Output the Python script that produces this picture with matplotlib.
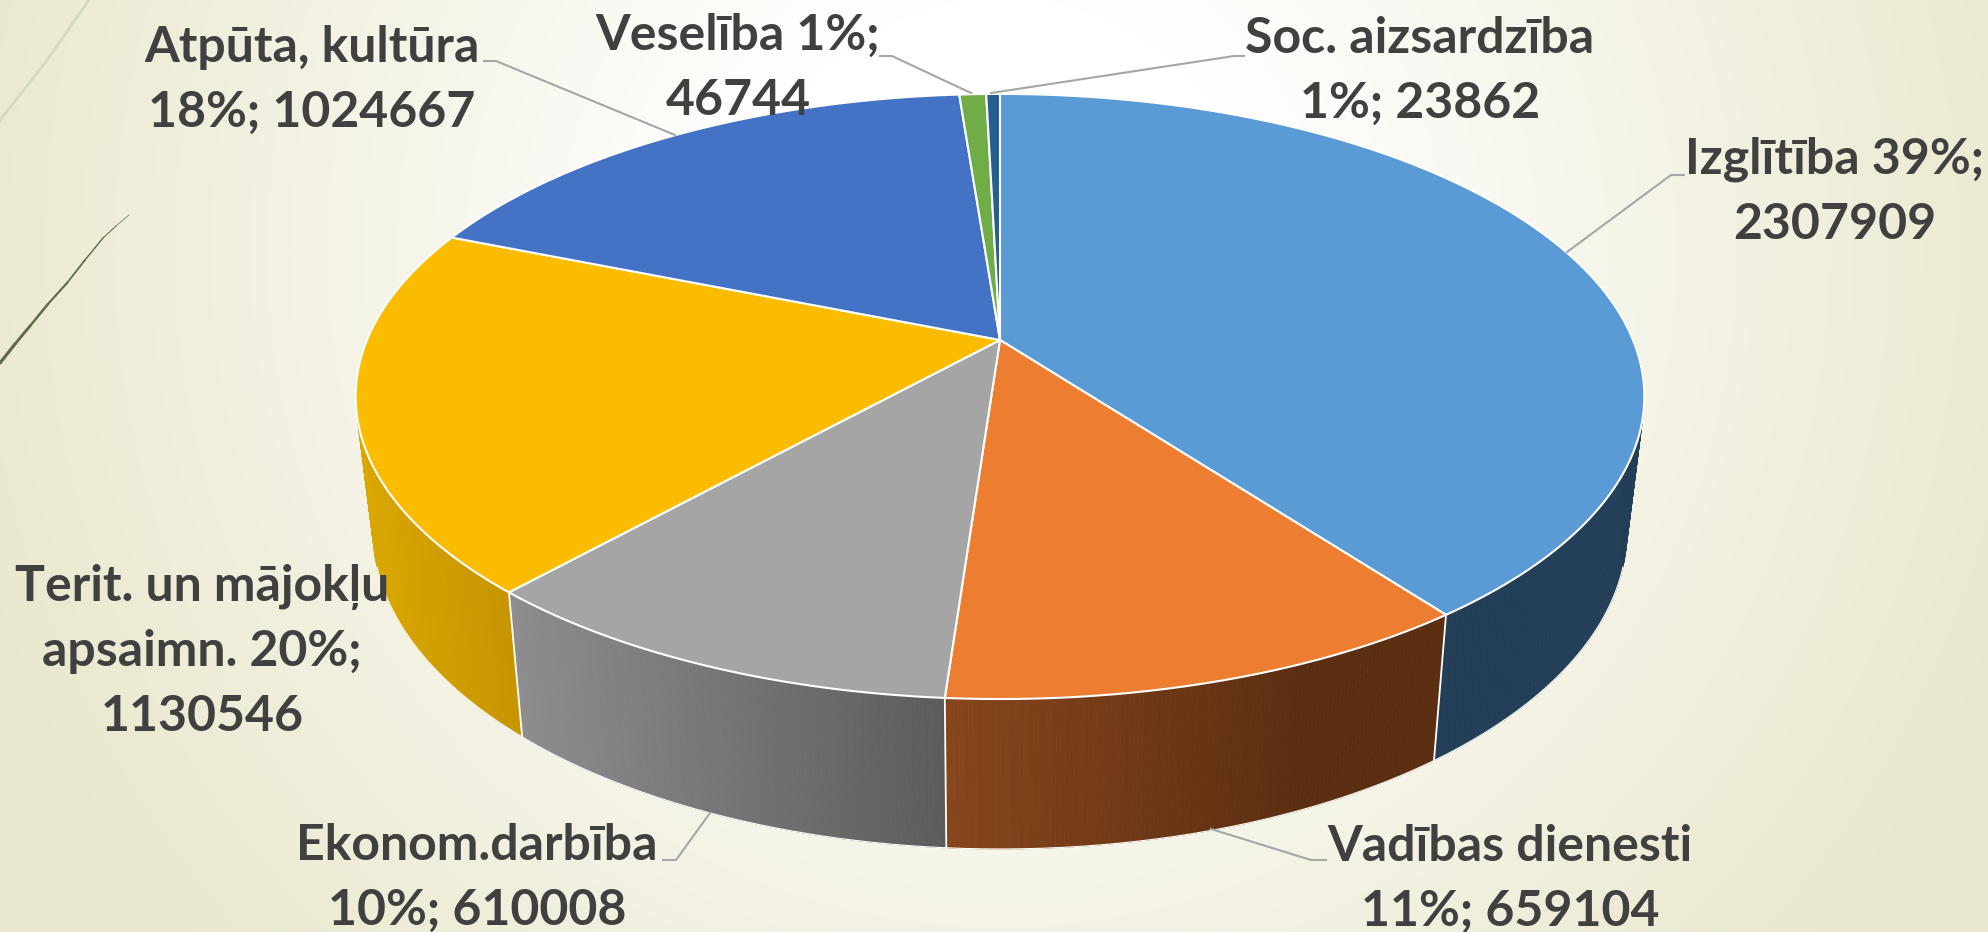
import numpy as np
import matplotlib
matplotlib.use('Agg')
import matplotlib.pyplot as plt
from matplotlib.collections import PolyCollection, LineCollection
from matplotlib.colors import LinearSegmentedColormap, to_rgb

plt.rcParams['font.family'] = ['Lato', 'DejaVu Sans']

# dati, pulksteņrādītāja virzienā no augšas
nozares = ['Izglītība', 'Vadības dienesti', 'Ekonom.darbība', 'Terit. un mājokļu apsaimn.',
           'Atpūta, kultūra', 'Veselība', 'Soc. aizsardzība']
vertibas = [2307909, 659104, 610008, 1130546, 1024667, 46744, 23862]
etiketes = [
    ['Izglītība 39%;', '2307909'],
    ['Vadības dienesti', '11%; 659104'],
    ['Ekonom.darbība', '10%; 610008'],
    ['Terit. un mājokļu', 'apsaimn. 20%;', '1130546'],
    ['Atpūta, kultūra', '18%; 1024667'],
    ['Veselība 1%;', '46744'],
    ['Soc. aizsardzība', '1%; 23862'],
]
krasas_virsa = ['#5B9BD5', '#ED7D31', '#A5A5A5', '#FBBC00', '#4472C4', '#70AD47', '#255E91']
# sānu siena: krāsa kreisajā un labajā malā, gradienta beigas (daļa no platuma)
krasas_siena = [('#233F57', '#233F57', 1.0), ('#87461C', '#5C2E11', 0.7), ('#8E8E8E', '#5C5C5C', 1.0),
                ('#DBA800', '#C69400', 1.0), ('#233F57', '#233F57', 1.0), ('#233F57', '#233F57', 1.0),
                ('#233F57', '#233F57', 1.0)]

# etiķešu vietas pikseļos: centrs x, pirmā rindas bāzes līnija
etik_x = [1835, 1510, 477, 202, 312, 738, 1420]
etik_y = [174, 861, 860, 601, 62, 50, 53]
rindstarpa = 65
etik_izmers = 36
lideri = [
    [(1684, 175), (1671, 175), (1567, 252)],
    [(1326, 860), (1311, 860), (1211, 829)],
    [(663, 860), (676, 860), (710, 813)],
    [(484, 61), (496, 61), (675, 135)],
    [(880, 56), (892, 56), (971, 93)],
    [(1244, 56), (1234, 56), (991, 93)],
]

W, H = 1988, 932
CX, CY = 1000, 340
A, B, P = 633, 292, 0.1867


def virsa(t):
    t = np.radians(t)
    w = 1 + P * np.cos(t)
    return CX + A * np.sin(t) / w, CY - B * np.cos(t) / w


def apaksa(t):
    x, y = virsa(t)
    return CX + 0.973 * (x - CX), 472 + 1.05 * (y - CY)


fig = plt.figure(figsize=(W / 100, H / 100), dpi=100)
ax = fig.add_axes([0, 0, 1, 1])
ax.set_xlim(0, W)
ax.set_ylim(H, 0)
ax.axis('off')

# fons
yy, xx = np.mgrid[0:H:4, 0:W:4]
r = np.hypot(xx - 1000, yy - 250)
fons_cmap = LinearSegmentedColormap.from_list('fons', ['#FFFFFF', '#E9E7CC'])
ax.imshow(np.clip((r - 250) / 850, 0, 1), extent=(0, W, H, 0), cmap=fons_cmap, vmin=0, vmax=1,
          aspect='auto', interpolation='bilinear', zorder=0)

# dekoratīvās līnijas kreisajā pusē
ax.plot([0, 45, 89], [120, 63, 0], color='#D6D8C4', lw=2, zorder=1)
dek_x = [0, 15, 30, 48, 67, 85, 103, 116, 129]
dek_y = [363, 344, 326, 304, 283, 260, 238, 226, 215]
seg = [[(dek_x[i], dek_y[i]), (dek_x[i + 1], dek_y[i + 1])] for i in range(len(dek_x) - 1)]
ax.add_collection(LineCollection(seg, colors='#5E6B4A', linewidths=np.linspace(2.3, 0.5, len(seg)),
                                 capstyle='round', zorder=1))

robezas = np.concatenate([[0], np.cumsum(vertibas) / np.sum(vertibas) * 360])

# sienas
for i in range(len(vertibas)):
    t0, t1 = robezas[i], robezas[i + 1]
    if t1 < 70 or t0 > 290:
        continue
    t = np.linspace(max(t0, 70), min(t1, 290), 120)
    x0, y0 = virsa(t)
    x1, y1 = apaksa(t)
    c0, c1, beigas = krasas_siena[i]
    c0, c1 = np.array(to_rgb(c0)), np.array(to_rgb(c1))
    xmin, xmax = min(x0.min(), x1.min()), max(x0.max(), x1.max())
    kv = []
    kr = []
    for j in range(len(t) - 1):
        kv.append([(x0[j], y0[j]), (x0[j + 1], y0[j + 1]), (x1[j + 1], y1[j + 1]), (x1[j], y1[j])])
        # gradients pa x
        u = ((x0[j] + x1[j]) / 2 - xmin) / (xmax - xmin)
        kr.append(c0 + (c1 - c0) * min(u / beigas, 1))
    ax.add_collection(PolyCollection(kv, facecolors=kr, edgecolors=kr, linewidths=0.6, zorder=2))

# apakšējā mala, tikai redzamā daļa
x1, y1 = apaksa(np.linspace(107, 253, 300))
ax.plot(x1, y1, color='white', lw=0.8, zorder=3)

# sienu šķirtnes
for t in robezas[1:4]:
    x0, y0 = virsa(t)
    x1, y1 = apaksa(t)
    ax.plot([x0, x1], [y0, y1], color='white', lw=1.3, zorder=3)

# virsa
for i in range(len(vertibas)):
    t = np.linspace(robezas[i], robezas[i + 1], 240)
    x, y = virsa(t)
    ax.fill(np.r_[CX, x], np.r_[CY, y], facecolor=krasas_virsa[i], edgecolor='white', lw=1.5,
            joinstyle='round', zorder=4)

# līderu līnijas
for l in lideri:
    ax.plot([p[0] for p in l], [p[1] for p in l], color='#A6A6A6', lw=1.5, zorder=5)

# etiķetes
for i, rindas in enumerate(etiketes):
    for k, rinda in enumerate(rindas):
        ax.text(etik_x[i], etik_y[i] + k * rindstarpa, rinda, ha='center', va='baseline',
                fontsize=etik_izmers, fontweight='bold', color='#404040', zorder=6)

fig.savefig('out.png', dpi=100)
